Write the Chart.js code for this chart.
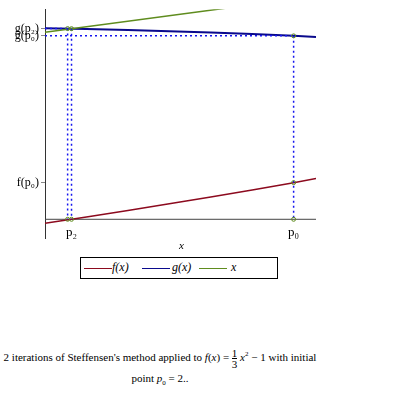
<!DOCTYPE html>
<html>
<head>
<meta charset="utf-8">
<script src="https://cdn.jsdelivr.net/npm/chart.js@4"></script>
<style>
  body { margin: 0; background: #fff; width: 395px; height: 395px; position: relative; overflow: hidden; }
  #plot { position: absolute; left: 0; top: 0; width: 395px; height: 255px; }
  #legend { position: absolute; left: 80px; top: 257px; width: 196px; height: 20px; border: 1px solid #000;
            font: italic 12px "Liberation Serif", serif; }
  #legend .ln { position: absolute; top: 10px; width: 28px; border-top: 1.5px solid; }
  #legend .tx { position: absolute; top: 2px; }
  #caption { position: absolute; left: 0; top: 345px; width: 320px; text-align: center;
             font: 11px "Liberation Serif", serif; line-height: 19px; white-space: nowrap; }
  .frac { display: inline-block; vertical-align: middle; text-align: center; line-height: 10px; font-size: 11px; }
  .frac span { display: block; }
  .frac .den { border-top: 1px solid #000; }
</style>
</head>
<body>
<div id="plot"><canvas id="steffChart" width="395" height="255"></canvas></div>
<div id="legend">
  <span class="ln" style="left:3px;border-color:#8c0a1e"></span><span class="tx" style="left:31px">f(x)</span>
  <span class="ln" style="left:61px;border-color:#0a0a8c"></span><span class="tx" style="left:91px">g(x)</span>
  <span class="ln" style="left:118px;border-color:#5f8c1e"></span><span class="tx" style="left:150px">x</span>
</div>
<div id="caption">
  2 iterations of Steffensen's method applied to <i>f</i>(<i>x</i>) = <span class="frac"><span>1</span><span class="den">3</span></span> <i>x</i><sup style="font-size:7px">2</sup> &minus; 1 with initial<br>
  point <i>p</i><sub style="font-size:7px">0</sub> = 2..
</div>
<script>
const xSamples = [1.70, 1.75, 1.80, 1.85, 1.90, 1.95, 2.00, 2.027];
const fValues  = [-0.037, 0.021, 0.080, 0.141, 0.203, 0.267, 0.333, 0.370];
const gValues  = [1.737, 1.729, 1.720, 1.709, 1.697, 1.683, 1.667, 1.657];
const identityX = [1.70, 2.027];

// iterates p0, p1, p2 and g at them
const iterates   = [2.0, 1.7273, 1.7320];
const gIterates  = [1.6667, 1.7328, 1.7320];
const fAtP0 = 0.3333;

const xRange = [1.70, 2.027];
const yRange = [-0.170, 1.909];

const yTickValues = [1.7320, 1.6667, 0.3333];
const yTickLabels = ['g(p\u2082)', 'g(p\u2080)', 'f(p\u2080)'];
const xTickValues = [1.7320, 2.0];
const xTickLabels = ['p\u2082', 'p\u2080'];

const toPts = (xs, ys) => xs.map((x, i) => ({ x, y: ys[i] }));

const markerPts = [
  { x: iterates[0], y: 0 }, { x: iterates[0], y: fAtP0 }, { x: iterates[0], y: gIterates[0] },
  { x: iterates[1], y: 0 }, { x: iterates[2], y: 0 },
  { x: iterates[1], y: gIterates[1] }, { x: iterates[2], y: gIterates[2] }
];

const dotted = (pts) => ({
  data: pts, showLine: true, borderColor: '#1414f0', borderWidth: 1.5,
  borderDash: [2, 3], pointRadius: 0, fill: false
});

const xLabels = {
  id: 'xLabels',
  afterDraw(chart) {
    const { ctx, scales: { x, y }, chartArea } = chart;
    ctx.save();
    ctx.fillStyle = '#000';
    ctx.textAlign = 'center';
    ctx.textBaseline = 'middle';
    ctx.font = '13px "Liberation Serif", serif';
    xTickValues.forEach((v, i) => {
      ctx.fillText(xTickLabels[i], x.getPixelForValue(v), y.getPixelForValue(0) + 13);
    });
    ctx.font = 'italic 11px "Liberation Serif", serif';
    ctx.fillText('x', (chartArea.left + chartArea.right) / 2 + 1, chartArea.bottom + 8);
    ctx.restore();
  }
};

new Chart(document.getElementById('steffChart').getContext('2d'), {
  type: 'scatter',
  data: {
    datasets: [
      { data: markerPts, pointRadius: 2, pointBorderColor: '#5f8c1e', pointBackgroundColor: 'rgba(0,0,0,0)',
        pointBorderWidth: 1, showLine: false },
      dotted([{ x: xRange[0], y: gIterates[0] }, { x: iterates[0], y: gIterates[0] }]),
      dotted([{ x: iterates[0], y: gIterates[0] }, { x: iterates[0], y: 0 }]),
      dotted([{ x: xRange[0], y: gIterates[1] }, { x: iterates[1], y: gIterates[1] }]),
      dotted([{ x: iterates[1], y: gIterates[1] }, { x: iterates[1], y: 0 }]),
      dotted([{ x: iterates[2], y: gIterates[2] }, { x: iterates[2], y: 0 }]),
      { data: toPts(identityX, identityX), showLine: true, borderColor: '#5f8c1e', borderWidth: 1.5, pointRadius: 0 },
      { data: toPts(xSamples, gValues), showLine: true, borderColor: '#0a0a8c', borderWidth: 2, pointRadius: 0 },
      { data: toPts(xSamples, fValues), showLine: true, borderColor: '#8c0a1e', borderWidth: 1.5, pointRadius: 0 },
      { data: [{ x: xRange[0], y: 0 }, { x: xRange[1], y: 0 }], showLine: true, borderColor: '#444',
        borderWidth: 1, pointRadius: 0 }
    ]
  },
  options: {
    responsive: false,
    animation: false,
    layout: { padding: { top: 6, right: 79, bottom: 17, left: 0 } },
    plugins: { legend: { display: false }, tooltip: { enabled: false } },
    scales: {
      x: { type: 'linear', min: xRange[0], max: xRange[1], display: false },
      y: {
        type: 'linear', min: yRange[0], max: yRange[1],
        afterFit: s => { s.width = 45; },
        afterBuildTicks: s => { s.ticks = yTickValues.map(v => ({ value: v })); },
        ticks: {
          autoSkip: false, color: '#000', padding: 2,
          font: { family: '"Liberation Serif", serif', size: 12 },
          callback: (v, i) => yTickLabels[i]
        },
        grid: { drawOnChartArea: false, drawTicks: true, tickLength: 4, color: '#888' },
        border: { display: true, color: '#333', width: 1 }
      }
    }
  },
  plugins: [xLabels]
});
</script>
</body>
</html>
